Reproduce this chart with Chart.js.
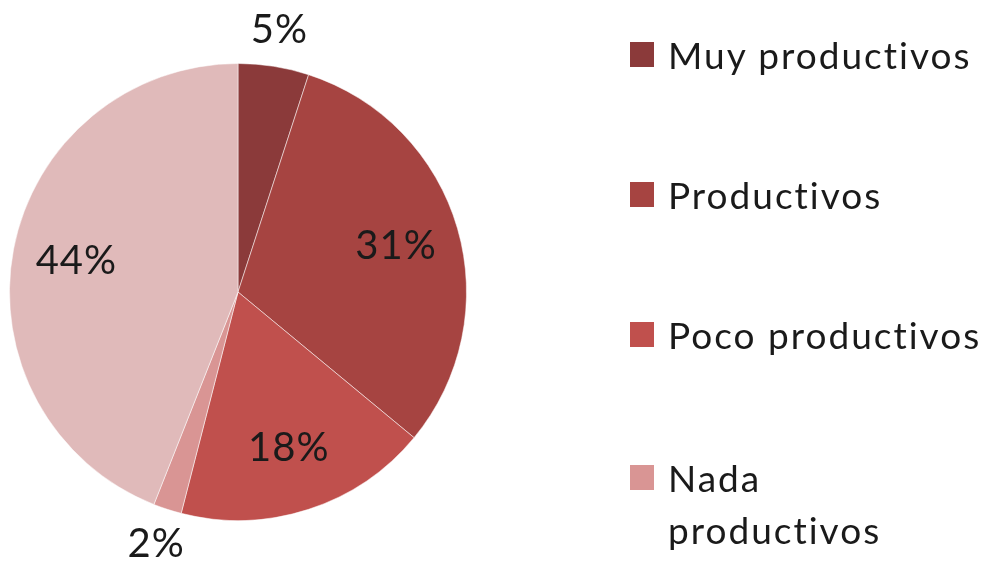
<!DOCTYPE html>
<html>
<head>
<meta charset="utf-8">
<script src="https://cdn.jsdelivr.net/npm/chart.js@4/dist/chart.umd.min.js"></script>
<style>
    html, body { margin: 0; padding: 0; background: #fff; }
    #wrap { position: relative; width: 995px; height: 569px; }
    #legend { position: absolute; left: 630px; top: 0; font-family: Lato, 'Open Sans', sans-serif; font-size: 37px; letter-spacing: 2px; color: #1a1a1a; }
    .item { position: absolute; left: 0; width: 370px; display: flex; align-items: flex-start; line-height: 52px; }
    .box { width: 24px; height: 25px; margin-top: 13px; margin-right: 14px; flex: none; }
</style>
</head>
<body>
<div id="wrap">
    <canvas id="pieChart" width="995" height="569"></canvas>
    <div id="legend"></div>
</div>
<script>
const categories = ['Muy productivos', 'Productivos', 'Poco productivos', 'Nada productivos', ''];
const values = [5, 31, 18, 2, 44];
const colors = ['#8b3a3a', '#a64441', '#c0504d', '#d99594', '#e0baba'];
const legendCount = 4;

// labels drawn on/around slices (small ones go outside)
const sliceLabels = {
    id: 'sliceLabels',
    afterDatasetsDraw(chart) {
        const { ctx } = chart;
        const meta = chart.getDatasetMeta(0);
        ctx.save();
        ctx.font = '40px Lato, "Open Sans", sans-serif';
        ctx.letterSpacing = '1px';
        ctx.fillStyle = '#1a1a1a';
        ctx.textAlign = 'center';
        ctx.textBaseline = 'middle';
        meta.data.forEach((arc, i) => {
            const { x, y, startAngle, endAngle, outerRadius } = arc.getProps(['x', 'y', 'startAngle', 'endAngle', 'outerRadius'], true);
            const mid = (startAngle + endAngle) / 2;
            const f = values[i] < 10 ? 1.16 : 0.72;
            ctx.fillText(values[i] + '%', x + Math.cos(mid) * outerRadius * f, y + Math.sin(mid) * outerRadius * f);
        });
        ctx.restore();
    },
};

new Chart(document.getElementById('pieChart'), {
    type: 'pie',
    data: {
        labels: categories,
        datasets: [{
            data: values,
            backgroundColor: colors,
            borderColor: 'rgba(255, 255, 255, 0.5)',
            borderWidth: 1,
        }],
    },
    options: {
        responsive: false,
        animation: false,
        layout: { padding: { left: 9, right: 528, top: 63, bottom: 48 } },
        plugins: {
            legend: { display: false },
            tooltip: { enabled: false },
        },
    },
    plugins: [sliceLabels],
});

const legendEl = document.getElementById('legend');
const rowTops = [29, 169, 309, 452];
categories.slice(0, legendCount).forEach((name, i) => {
    const item = document.createElement('div');
    item.className = 'item';
    item.style.top = rowTops[i] + 'px';
    const box = document.createElement('div');
    box.className = 'box';
    box.style.background = colors[i];
    const txt = document.createElement('div');
    txt.textContent = name;
    if (i === 3) txt.style.width = '230px';
    item.appendChild(box);
    item.appendChild(txt);
    legendEl.appendChild(item);
});
</script>
</body>
</html>
